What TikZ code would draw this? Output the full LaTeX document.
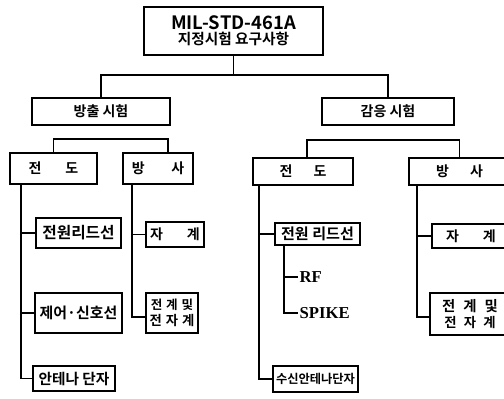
\documentclass[tikz,border=0pt]{standalone}
\usepackage{fontspec}
\newfontfamily\kr{Noto Sans CJK KR}[BoldFont={Noto Sans CJK KR Bold}]
\newfontfamily\lser{Liberation Serif}
\begin{document}
\begin{tikzpicture}[x=0.75pt,y=-0.75pt,
  bx/.style 2 args={draw,line width=1.3pt,inner sep=0pt,minimum width=#1*0.75pt,minimum height=#2*0.75pt,align=center,font=\kr\bfseries},
  ln/.style={line width=1.1pt},
  lbl/.style={anchor=west,inner sep=1pt,font=\lser\bfseries\fontsize{12.5}{14}\selectfont}]
\fill[white] (0,0) rectangle (504,399);
\useasboundingbox (0,0) rectangle (504,399);
% boxes
\node[bx={179}{48}] (top) at (233.5,31) {\fontsize{13.8}{15}\selectfont MIL-STD-461A\\[-1pt]\fontsize{11}{13}\selectfont 지정시험 요구사항};
\node[bx={138}{27}] (emit) at (101,111.5) {\fontsize{10.5}{12}\selectfont 방출 시험};
\node[bx={132}{27}] (sens) at (388,111.5) {\fontsize{10.5}{12}\selectfont 감응 시험};
\node[bx={87}{31}] (lcond) at (53.5,168.5) {\fontsize{10.5}{12}\selectfont 전\hspace{1.7em}도};
\node[bx={70}{31}] (lrad) at (158,168.5) {\fontsize{10.5}{12}\selectfont 방\hspace{1.9em}사};
\node[bx={85}{30}] (l1) at (78.5,233) {\fontsize{11.8}{13}\selectfont 전원리드선};
\node[bx={87}{40}] (l2) at (78.5,313) {\fontsize{11.2}{13}\selectfont 제어·신호선};
\node[bx={82}{25}] (l3) at (74,378.5) {\fontsize{11}{13}\selectfont 안테나 단자};
\node[bx={58}{25}] (l4) at (175,234.5) {\fontsize{10.5}{12}\selectfont 자\hspace{1.7em}계};
\node[bx={52}{40}] (l5) at (172,313) {\fontsize{9.4}{11}\selectfont 전\hspace{0.3em}계\hspace{0.3em}및\\전\hspace{0.3em}자\hspace{0.3em}계};
\node[bx={100}{27}] (rcond) at (303,171.5) {\fontsize{10.5}{12}\selectfont 전\hspace{1.5em}도};
\node[bx={101}{27}] (rrad) at (459.5,171.5) {\fontsize{10.5}{12}\selectfont 방\hspace{1.5em}사};
\node[bx={85}{22}] (r1) at (317.5,234) {\fontsize{11.3}{13}\selectfont 전원 리드선};
\node[bx={85}{26}] (r2) at (315.5,379) {\fontsize{9.2}{11}\selectfont 수신안테나단자};
\node[bx={78}{24}] (r3) at (471,236) {\fontsize{10.5}{12}\selectfont 자\hspace{1.7em}계};
\node[bx={80}{42}] (r4) at (470,314) {\fontsize{10.8}{12.5}\selectfont 전\hspace{0.55em}계\hspace{0.55em}및\\전\hspace{0.55em}자\hspace{0.55em}계};
\node[lbl] (rf) at (298,277) {RF};
\node[lbl] (spike) at (298,313) {SPIKE};
% top level
\coordinate (j0) at (0,75);
\draw[ln] (top.south) -- (top.south |- j0);
\draw[ln] (emit.north) -- (emit.north |- j0) -- (sens.north |- j0) -- (sens.north);
% left second level
\coordinate (j1) at (0,139);
\draw[ln] (lcond.north) -- (lcond.north |- j1) -- ([xshift=7.5pt]lrad.north |- j1) -- ([xshift=7.5pt]lrad.north);
% right second level
\coordinate (j2) at (0,140);
\draw[ln] ([xshift=3pt]rcond.north) -- ([xshift=3pt]rcond.north |- j2) -- (rrad.north |- j2) -- (rrad.north);
% left conduction children
\coordinate (lv) at ([xshift=9pt]lcond.south west);
\draw[ln] (lv) |- (l3.west);
\draw[ln] (lv |- l1.west) -- (l1.west);
\draw[ln] (lv |- l2.west) -- (l2.west);
% left radiation children
\coordinate (lw) at ([xshift=7.5pt]lrad.south west);
\draw[ln] (lw) |- ([yshift=-3pt]l5.west);
\draw[ln] (lw |- l4.west) -- (l4.west);
% right conduction children
\coordinate (rv) at ([xshift=5.25pt]rcond.south west);
\draw[ln] (rv) |- (r2.west);
\draw[ln] (rv |- r1.west) -- (r1.west);
% RF / SPIKE
\coordinate (rw) at ([xshift=7.5pt]r1.south west);
\draw[ln] (rw) |- (spike.west);
\draw[ln] (rw |- rf.west) -- (rf.west);
% right radiation children
\coordinate (rx) at ([xshift=6.75pt]rrad.south west);
\draw[ln] (rx) |- ([yshift=-2.25pt]r4.west);
\draw[ln] (rx |- r3.west) -- (r3.west);
\end{tikzpicture}
\end{document}
